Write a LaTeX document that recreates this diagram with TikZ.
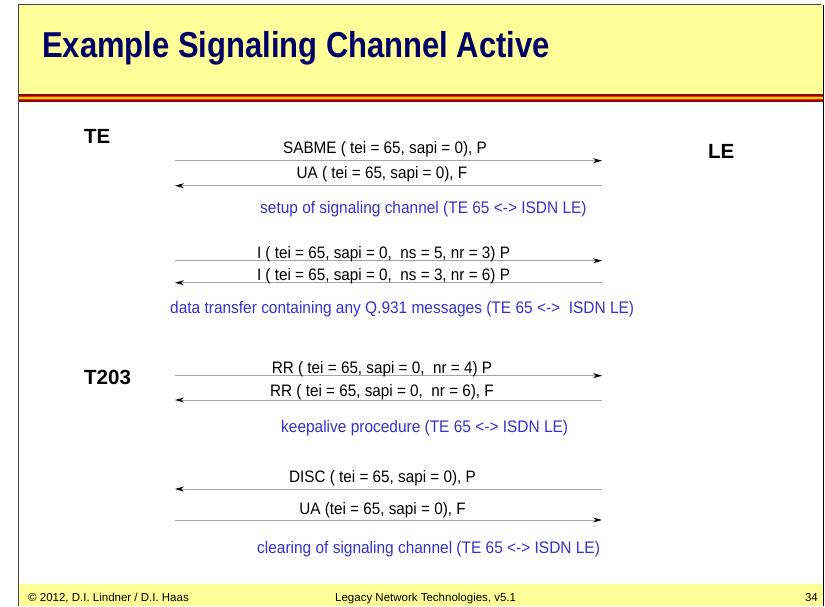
\documentclass[tikz,border=0pt]{standalone}
\usepackage{fontspec}
\setmainfont{Liberation Sans}
\newfontfamily\titlefont[FakeStretch=0.86]{Liberation Sans}
\newfontfamily\msgfont[FakeStretch=0.92]{Liberation Sans}
\usetikzlibrary{arrows.meta}
\definecolor{hdr}{RGB}{255,255,153}
\definecolor{navy}{RGB}{0,0,102}
\definecolor{bluetxt}{RGB}{51,51,204}
\definecolor{linegray}{RGB}{165,165,165}
\definecolor{dred}{RGB}{150,0,0}
\definecolor{rred}{RGB}{230,40,0}
\definecolor{orng}{RGB}{255,140,0}
\definecolor{ylw}{RGB}{255,210,0}
\definecolor{framegray}{RGB}{70,70,70}
\begin{document}
\begin{tikzpicture}[x=1pt,y=-1pt,
  msg/.style={anchor=base, inner sep=0pt, font=\msgfont\fontsize{16.6}{19}\selectfont},
  note/.style={anchor=base west, inner sep=0pt, text=bluetxt, font=\msgfont\fontsize{16.8}{19}\selectfont},
  ent/.style={anchor=base west, inner sep=0pt, font=\fontsize{20.5}{24}\selectfont\bfseries},
  foot/.style={inner sep=0pt, font=\fontsize{11.5}{13}\selectfont},
  sig/.style={draw=linegray, line width=0.8pt, -{Stealth[color=black, fill=black, length=9pt, width=5pt, inset=3pt]}},
]
\useasboundingbox (0,0) rectangle (825,606);
% header and footer
\fill[hdr] (18,4) rectangle (824,94);
\fill[dred] (18,94) rectangle (824,95.5);
\fill[rred] (18,95.5) rectangle (824,96.5);
\fill[orng] (18,96.5) rectangle (824,97.2);
\fill[ylw] (18,97.2) rectangle (824,98.5);
\fill[orng] (18,98.5) rectangle (824,99.3);
\fill[rred] (18,99.3) rectangle (824,100.2);
\fill[dred] (18,100.2) rectangle (824,101.5);
\fill[hdr] (18,584) rectangle (824,606);
\draw[framegray, line width=1.5pt] (18.7,606) -- (18.7,4.7) -- (821,4.7);
\draw[black, line width=1.3pt] (823.3,5) -- (823.3,606);
% title
\node[anchor=base west, inner sep=0pt, text=navy, font=\titlefont\fontsize{36}{40}\selectfont\bfseries] (title) at (42,57) {Example Signaling Channel Active};
% entities
\node[ent] (te) at (84,143) {TE};
\node[ent] (le) at (708,158) {LE};
\node[ent] (t203) at (84,384) {T203};
% arrow end points
\coordinate (a1s) at (175,160.7); \coordinate (a1e) at (602,160.7);
\coordinate (a2s) at (602,185.7); \coordinate (a2e) at (175,185.7);
\coordinate (a3s) at (175,260.7); \coordinate (a3e) at (602,260.7);
\coordinate (a4s) at (602,282.7); \coordinate (a4e) at (175,282.7);
\coordinate (a5s) at (175,375.7); \coordinate (a5e) at (602,375.7);
\coordinate (a6s) at (602,400); \coordinate (a6e) at (175,400);
\coordinate (a7s) at (602,489); \coordinate (a7e) at (175,489);
\coordinate (a8s) at (175,520); \coordinate (a8e) at (602,520);
\draw[sig] (a1s) -- (a1e);
\draw[sig] (a2s) -- (a2e);
\draw[sig] (a3s) -- (a3e);
\draw[sig] (a4s) -- (a4e);
\draw[sig] (a5s) -- (a5e);
\draw[sig] (a6s) -- (a6e);
\draw[sig] (a7s) -- (a7e);
\draw[sig] (a8s) -- (a8e);
% messages
\node[msg] (m1) at (385,153) {SABME ( tei = 65, sapi = 0), P};
\node[msg] (m2) at (382,178) {UA ( tei = 65, sapi = 0), F};
\node[note] (n1) at (260,213) {setup of signaling channel (TE 65 <-> ISDN LE)};
\node[msg] (m3) at (383.5,258) {I ( tei = 65, sapi = 0,\ \ ns = 5, nr = 3) P};
\node[msg] (m4) at (383.5,280) {I ( tei = 65, sapi = 0,\ \ ns = 3, nr = 6) P};
\node[note] (n2) at (170,313) {data transfer containing any Q.931 messages (TE 65 <->\ \ ISDN LE)};
\node[msg] (m5) at (382,373) {RR ( tei = 65, sapi = 0,\ \ nr = 4) P};
\node[msg] (m6) at (382,396.4) {RR ( tei = 65, sapi = 0,\ \ nr = 6), F};
\node[note] (n3) at (281,432) {keepalive procedure (TE 65 <-> ISDN LE)};
\node[msg] (m7) at (382.5,482) {DISC ( tei = 65, sapi = 0), P};
\node[msg] (m8) at (382.5,514) {UA (tei = 65, sapi = 0), F};
\node[note] (n4) at (257,553) {clearing of signaling channel (TE 65 <-> ISDN LE)};
% footer
\node[foot, anchor=base west] (f1) at (28,601) {© 2012, D.I. Lindner / D.I. Haas};
\node[foot, anchor=base west] (f2) at (335,601) {Legacy Network Technologies, v5.1};
\node[foot, anchor=base east] (f3) at (818,601) {34};
\end{tikzpicture}
\end{document}
